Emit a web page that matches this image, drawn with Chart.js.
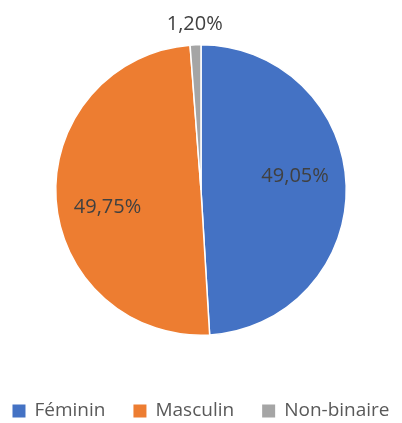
<!DOCTYPE html>
<html>
<head>
<meta charset="utf-8">
<script src="https://cdn.jsdelivr.net/npm/chart.js@4/dist/chart.umd.min.js"></script>
<style>
  html, body { margin: 0; padding: 0; background: #fff; }
  #wrap { width: 402px; height: 423px; }
</style>
</head>
<body>
<div id="wrap"><canvas id="pie"></canvas></div>
<script>
var categories = ['Féminin', 'Masculin', 'Non-binaire'];
var values = [49.05, 49.75, 1.20];
var labelsText = ['49,05%', '49,75%', '1,20%'];
var colors = ['#4472C4', '#ED7D31', '#A5A5A5'];

var FONT = '"Open Sans", sans-serif';

// percentage labels placed from the arc elements
var pctLabels = {
  id: 'pctLabels',
  afterDatasetsDraw: function(chart) {
    var ctx = chart.ctx;
    var meta = chart.getDatasetMeta(0);
    ctx.save();
    ctx.font = '20px ' + FONT;
    ctx.fillStyle = '#404040';
    ctx.textAlign = 'center';
    ctx.textBaseline = 'middle';
    meta.data.forEach(function(arc, i) {
      var mid = (arc.startAngle + arc.endAngle) / 2;
      var r = arc.outerRadius + 21;
      if (values[i] >= 5) {
        // inside labels sit a little counter-clockwise, like the original
        mid -= 0.12;
        r = arc.outerRadius * 0.655;
      }
      ctx.fillText(labelsText[i], arc.x + Math.cos(mid) * r, arc.y + Math.sin(mid) * r);
    });
    ctx.restore();
  }
};

// single-row legend under the pie
var rowLegend = {
  id: 'rowLegend',
  afterDraw: function(chart) {
    var ctx = chart.ctx;
    var box = 13, gap = 9, sep = 28;
    ctx.save();
    ctx.font = '19px ' + FONT;
    var widths = categories.map(function(c) { return ctx.measureText(c).width; });
    var total = widths.reduce(function(a, b) { return a + b; }, 0) + categories.length * (box + gap) + (categories.length - 1) * sep;
    var x = (chart.width - total) / 2;
    var y = 411;
    ctx.textBaseline = 'middle';
    ctx.textAlign = 'left';
    categories.forEach(function(c, i) {
      ctx.fillStyle = colors[i];
      ctx.fillRect(x, y - box / 2, box, box);
      x += box + gap;
      ctx.fillStyle = '#595959';
      ctx.fillText(c, x, y);
      x += widths[i] + sep;
    });
    ctx.restore();
  }
};

new Chart(document.getElementById('pie'), {
  type: 'pie',
  data: {
    labels: categories,
    datasets: [{
      data: values,
      backgroundColor: colors,
      borderColor: '#ffffff',
      borderWidth: 1.5,
      hoverOffset: 0
    }]
  },
  options: {
    responsive: true,
    maintainAspectRatio: false,
    animation: false,
    layout: { padding: { top: 44, bottom: 87 } },
    plugins: {
      tooltip: { enabled: false },
      legend: { display: false }
    }
  },
  plugins: [pctLabels, rowLegend]
});
</script>
</body>
</html>
